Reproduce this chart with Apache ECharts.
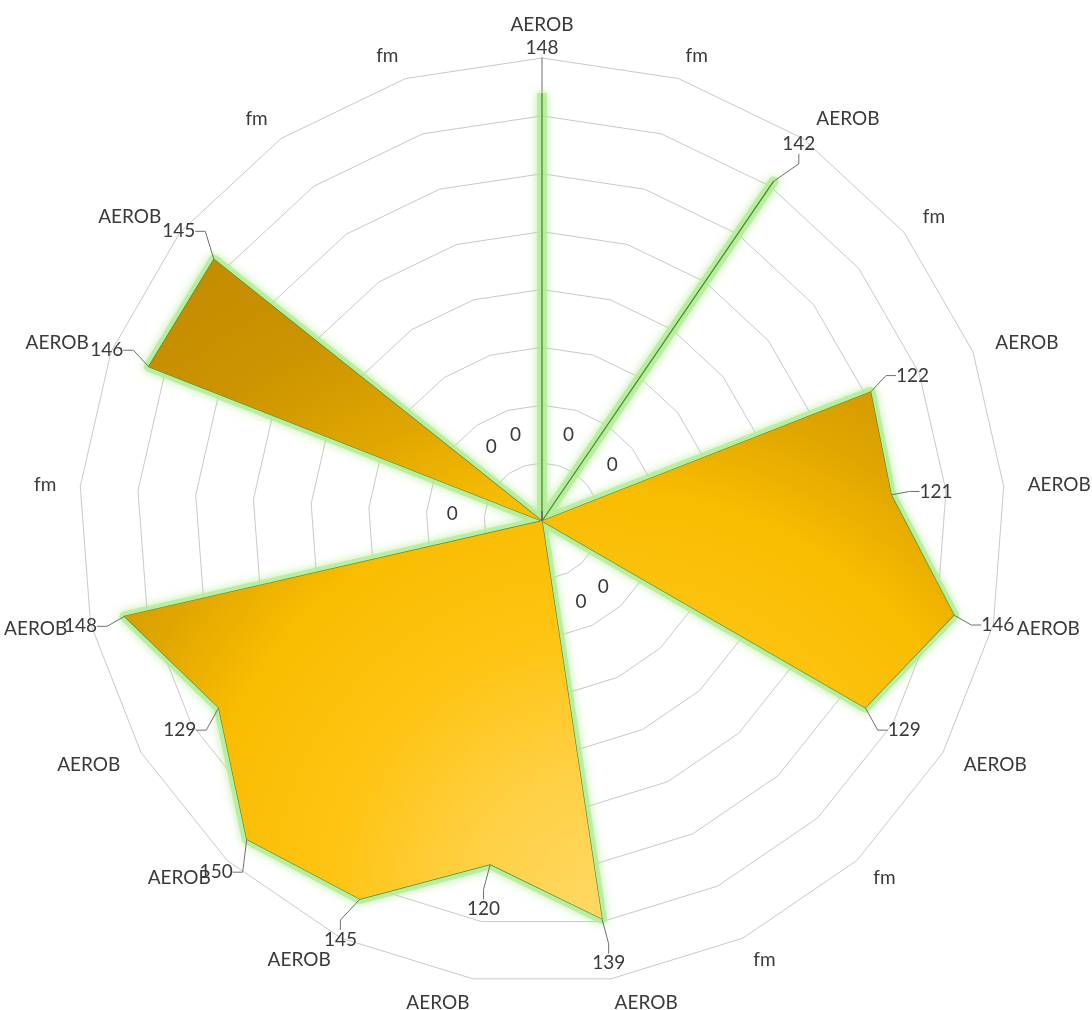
<!DOCTYPE html>
<html>
<head>
<meta charset="utf-8">
<script src="https://cdn.jsdelivr.net/npm/echarts@6/dist/echarts.min.js"></script>
<style>html,body{margin:0;padding:0;background:#fff}#c{width:1092px;height:1010px}</style>
</head>
<body>
<div id="c"></div>
<script>
// Indicators in ECharts order: starting at the top, going counter-clockwise
const categories = ['AEROB','fm','fm','AEROB','AEROB','fm','AEROB','AEROB','AEROB','AEROB','AEROB',
                    'AEROB','fm','fm','AEROB','AEROB','AEROB','AEROB','fm','AEROB','fm'];
const values = [148, 0, 0, 145, 146, 0, 148, 129, 150, 145, 120,
                139, 0, 0, 129, 146, 121, 122, 0, 142, 0];
const axisMax = 160;
const ringCount = 8;

const FONT = 'Lato';
const TEXT = '#3a3a3a';
const n = categories.length;
const chart = echarts.init(document.getElementById('c'), null, {renderer: 'canvas'});

function dirOf(i) {
  const a = Math.PI / 2 + i * 2 * Math.PI / n;
  return [Math.cos(a), -Math.sin(a)];
}

const labelSeries = values.map(function (v, i) {
  const masked = values.map(function (w, j) { return j === i ? w : null; });
  const d = dirOf(i);
  const dist = v === 0 ? 90 : 45;
  return {
    type: 'radar',
    silent: true,
    z: 5,
    symbol: 'circle',
    symbolSize: 1,
    itemStyle: {color: 'rgba(0,0,0,0)'},
    lineStyle: {opacity: 0, width: 0},
    label: {show: true, color: TEXT, fontSize: 19, fontFamily: FONT, position: 'inside'},
    labelLine: {show: v !== 0, length2: 10, lineStyle: {color: '#6f6f6f', width: 1}},
    labelLayout: function (p) {
      if (p.text === '' || p.text == null) return {};
      const px = p.rect.x + p.rect.width / 2;
      const py = p.rect.y + p.rect.height / 2;
      return {x: px + d[0] * dist, y: py + d[1] * dist, align: 'center', verticalAlign: 'middle'};
    },
    data: [{value: masked}]
  };
});

chart.setOption({
  animation: false,
  backgroundColor: '#ffffff',
  radar: {
    center: [542, 521],
    radius: 463,
    startAngle: 90,
    splitNumber: ringCount,
    shape: 'polygon',
    nameGap: 24,
    indicator: categories.map(function (c) { return {name: c, min: 0, max: axisMax}; }),
    axisName: {color: TEXT, fontSize: 19, fontFamily: FONT},
    axisLine: {show: false},
    axisTick: {show: false},
    axisLabel: {show: false},
    splitLine: {lineStyle: {color: '#c9c9c9', width: 1}},
    splitArea: {show: false}
  },
  series: [{
    // soft green glow along the outline
    type: 'radar',
    z: 1,
    silent: true,
    symbol: 'none',
    lineStyle: {color: 'rgba(178,236,150,0.8)', width: 10, join: 'round', shadowColor: 'rgba(160,228,125,0.85)', shadowBlur: 10},
    data: [{value: values}]
  }, {
    type: 'radar',
    z: 2,
    silent: true,
    symbol: 'none',
    lineStyle: {color: '#4c8a2c', width: 1.3},
    areaStyle: {
      opacity: 1,
      color: {
        type: 'radial', x: 0.574, y: 0.98, r: 1.0,
        colorStops: [
          {offset: 0, color: '#ffd862'},
          {offset: 0.16, color: '#ffd044'},
          {offset: 0.33, color: '#fec412'},
          {offset: 0.50, color: '#f8bc00'},
          {offset: 0.62, color: '#e0a600'},
          {offset: 0.76, color: '#cc9400'},
          {offset: 1, color: '#bf8800'}
        ]
      }
    },
    data: [{value: values}]
  }].concat(labelSeries)
});
</script>
</body>
</html>
